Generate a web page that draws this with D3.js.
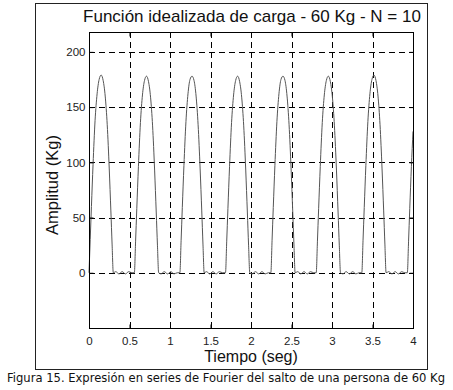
<!DOCTYPE html>
<html>
<head>
<meta charset="utf-8">
<script src="https://cdn.jsdelivr.net/npm/d3@7"></script>
<style>
  body { margin: 0; background: #fff; }
  svg { display: block; }
</style>
</head>
<body>
<svg id="chart" width="453" height="390"></svg>
<script>
// valores (tiempo en seg, amplitud en Kg)
const tiempo = [
  0, .015, .03, .05, .075, .10, .125, .15, .175, .20, .225, .25, .27, .285, .30, .33, .37, .41, .45, .49, .53,
  .56, .575, .59, .61, .635, .66, .685, .71, .735, .76, .785, .81, .83, .845, .86, .89, .93, .97, 1.01, 1.05, 1.09,
  1.122, 1.137, 1.152, 1.172, 1.197, 1.222, 1.247, 1.272, 1.297, 1.322, 1.347, 1.372, 1.392, 1.407, 1.422, 1.45, 1.49, 1.53, 1.57, 1.61, 1.65,
  1.685, 1.70, 1.715, 1.735, 1.76, 1.785, 1.81, 1.835, 1.86, 1.885, 1.91, 1.935, 1.955, 1.97, 1.985, 2.015, 2.055, 2.095, 2.135, 2.175, 2.215,
  2.245, 2.26, 2.275, 2.295, 2.32, 2.345, 2.37, 2.395, 2.42, 2.445, 2.47, 2.495, 2.515, 2.53, 2.545, 2.575, 2.615, 2.655, 2.695, 2.735, 2.775,
  2.805, 2.82, 2.835, 2.855, 2.88, 2.905, 2.93, 2.955, 2.98, 3.005, 3.03, 3.055, 3.075, 3.09, 3.105, 3.135, 3.175, 3.215, 3.255, 3.295, 3.335,
  3.368, 3.383, 3.398, 3.418, 3.443, 3.468, 3.493, 3.518, 3.543, 3.568, 3.593, 3.618, 3.638, 3.653, 3.668, 3.70, 3.74, 3.78, 3.82, 3.86, 3.90,
  3.93, 3.945, 3.96, 3.98, 4.0
];
const amplitud = [
  0, 30, 60, 98, 138, 162, 175, 179, 174, 160, 134, 94, 56, 26, 0, 1, -1, 1, -1, 1, 0,
  0, 28, 58, 96, 136, 161, 174, 178, 173, 159, 133, 93, 55, 25, 0, -1, 1, -1, 1, -1, 0,
  0, 29, 59, 97, 137, 162, 175, 178, 174, 160, 134, 94, 56, 26, 0, 1, -1, 1, -1, 1, 0,
  0, 28, 58, 96, 136, 161, 174, 178, 173, 159, 133, 93, 55, 25, 0, -1, 1, -1, 1, -1, 0,
  0, 29, 59, 97, 137, 162, 175, 178, 174, 160, 134, 94, 56, 26, 0, 1, -1, 1, -1, 1, 0,
  0, 28, 58, 96, 136, 161, 174, 178, 173, 159, 133, 93, 55, 25, 0, -1, 1, -1, 1, -1, 0,
  0, 29, 59, 97, 137, 162, 175, 179, 174, 160, 134, 94, 56, 26, 0, 1, -1, 1, -1, 1, 0,
  0, 28, 58, 96, 128
];
const xTicks = [0, 0.5, 1, 1.5, 2, 2.5, 3, 3.5, 4];
const yTicks = [0, 50, 100, 150, 200];

const svg = d3.select("#chart");
const m = { left: 89, right: 413, top: 32, bottom: 328 };

const x = d3.scaleLinear().domain([0, 4]).range([m.left, m.right]);
const y = d3.scaleLinear().domain([-50, 218]).range([m.bottom, m.top]);

// marco exterior
svg.append("rect")
    .attr("x", 35.5).attr("y", 3.5)
    .attr("width", 392).attr("height", 366)
    .attr("fill", "none").attr("stroke", "#222").attr("stroke-width", 1);

// rejilla
let grid = svg.append("g").attr("stroke", "#000").attr("stroke-width", 1).attr("stroke-dasharray", "6,4");
grid.selectAll(".gx").data(xTicks.slice(1, -1)).enter().append("line")
    .attr("x1", d => Math.round(x(d)) + 0.5).attr("x2", d => Math.round(x(d)) + 0.5)
    .attr("y1", m.top).attr("y2", m.bottom);
grid.selectAll(".gy").data(yTicks).enter().append("line")
    .attr("y1", d => Math.round(y(d)) + 0.5).attr("y2", d => Math.round(y(d)) + 0.5)
    .attr("x1", m.left).attr("x2", m.right);

// curva
let line = d3.line()
    .x((d, i) => x(tiempo[i]))
    .y((d, i) => y(amplitud[i]))
    .curve(d3.curveMonotoneX);

svg.append("path")
    .datum(amplitud)
    .attr("d", line)
    .attr("fill", "none")
    .attr("stroke", "#555")
    .attr("stroke-width", 1);

// ejes
let xAxis = svg.append("g")
    .attr("transform", "translate(0," + (m.bottom + 0.5) + ")")
    .call(d3.axisBottom(x).tickValues(xTicks).tickFormat(d3.format("")).tickSize(-4).tickPadding(8));
let yAxis = svg.append("g")
    .attr("transform", "translate(" + (m.left + 0.5) + ",0)")
    .call(d3.axisLeft(y).tickValues(yTicks).tickSize(-4).tickPadding(4));
let xTop = svg.append("g")
    .attr("transform", "translate(0," + (m.top + 0.5) + ")")
    .call(d3.axisTop(x).tickValues(xTicks).tickSize(-4).tickFormat(""));
let yRight = svg.append("g")
    .attr("transform", "translate(" + (m.right + 0.5) + ",0)")
    .call(d3.axisRight(y).tickValues(yTicks).tickSize(-4).tickFormat(""));

[xAxis, yAxis, xTop, yRight].forEach(a => {
  a.select(".domain").attr("d", null);
  a.selectAll("line").attr("stroke", "#000");
  a.selectAll("text")
      .attr("font-family", "Liberation Sans, Arial, sans-serif")
      .attr("font-size", 11.5)
      .attr("fill", "#222");
});

svg.append("rect")
    .attr("x", m.left + 0.5).attr("y", m.top + 0.5)
    .attr("width", m.right - m.left).attr("height", m.bottom - m.top)
    .attr("fill", "none").attr("stroke", "#000").attr("stroke-width", 1);

// textos
svg.append("text")
    .attr("x", 252).attr("y", 22)
    .attr("text-anchor", "middle")
    .attr("font-family", "Liberation Sans, Arial, sans-serif")
    .attr("font-size", 17)
    .attr("fill", "#111")
    .text("Función idealizada de carga - 60 Kg - N = 10");

svg.append("text")
    .attr("x", 251).attr("y", 362)
    .attr("text-anchor", "middle")
    .attr("font-family", "Liberation Sans, Arial, sans-serif")
    .attr("font-size", 16)
    .attr("fill", "#111")
    .text("Tiempo (seg)");

svg.append("text")
    .attr("transform", "translate(58,185) rotate(-90)")
    .attr("text-anchor", "middle")
    .attr("font-family", "Liberation Sans, Arial, sans-serif")
    .attr("font-size", 16.5)
    .attr("fill", "#111")
    .text("Amplitud (Kg)");

svg.append("text")
    .attr("x", 226).attr("y", 382)
    .attr("text-anchor", "middle")
    .attr("font-family", "DejaVu Sans, sans-serif")
    .attr("font-size", 12)
    .attr("textLength", 438)
    .attr("lengthAdjust", "spacingAndGlyphs")
    .attr("fill", "#111")
    .text("Figura 15. Expresión en series de Fourier del salto de una persona de 60 Kg");
</script>
</body>
</html>
